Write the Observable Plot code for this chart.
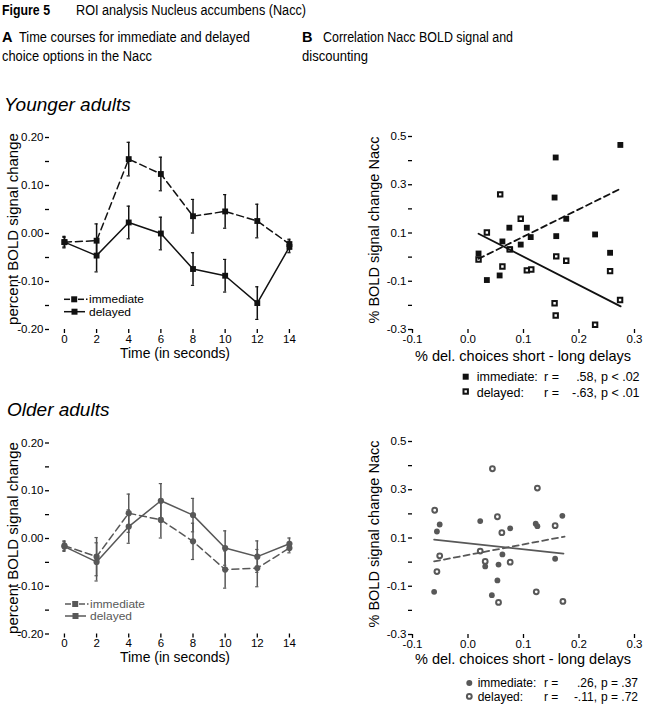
<!DOCTYPE html>
<html><head><meta charset="utf-8">
<script src="https://cdn.jsdelivr.net/npm/d3@7"></script>
<script src="https://cdn.jsdelivr.net/npm/@observablehq/plot@0.6"></script>
<style>
html,body{margin:0;padding:0;background:#fff;}
#page{position:relative;width:653px;height:706px;overflow:hidden;font-family:"Liberation Sans",Arial,sans-serif;}
.panel{position:absolute;}
#overlay{position:absolute;left:0;top:0;pointer-events:none;}
</style></head><body><div id="page"></div>
<script>
// ---- Time courses (seconds) ----
const time = [0, 2, 4, 6, 8, 10, 12, 14];
const youngImm    = [-0.018, -0.015, 0.155, 0.124, 0.036, 0.046, 0.026, -0.022];
const youngImmErr = [0.010, 0.035, 0.035, 0.035, 0.035, 0.035, 0.035, 0.010];
const youngDel    = [-0.018, -0.046, 0.023, 0.000, -0.074, -0.088, -0.145, -0.028];
const youngDelErr = [0.012, 0.034, 0.034, 0.034, 0.034, 0.034, 0.034, 0.012];
const oldImm      = [-0.015, -0.038, 0.053, 0.039, -0.006, -0.065, -0.062, -0.020];
const oldImmErr   = [0.010, 0.040, 0.040, 0.038, 0.038, 0.039, 0.039, 0.010];
const oldDel      = [-0.017, -0.049, 0.025, 0.079, 0.049, -0.020, -0.038, -0.011];
const oldDelErr   = [0.010, 0.040, 0.035, 0.036, 0.035, 0.036, 0.033, 0.012];

// ---- Scatter: younger adults ----
const youngImmX = [0.2745, 0.158, 0.156, 0.177, 0.0745, 0.106, 0.113, 0.159, 0.229, 0.062, 0.095, 0.076, 0.019, 0.256, 0.057, 0.034];
const youngImmY = [0.465, 0.413, 0.247, 0.159, 0.122, 0.122, 0.083, 0.087, 0.094, 0.065, 0.052, 0.032, 0.015, 0.018, -0.076, -0.095];
const youngDelX = [0.058, 0.095, 0.034, 0.075, 0.019, 0.159, 0.177, 0.062, 0.106, 0.114, 0.256, 0.274, 0.156, 0.158, 0.229];
const youngDelY = [0.260, 0.159, 0.102, 0.032, -0.010, 0.003, -0.015, -0.039, -0.055, -0.051, -0.058, -0.178, -0.191, -0.242, -0.280];
const youngFitImmX = [0.019, 0.277], youngFitImmY = [-0.007, 0.286];
const youngFitDelX = [0.019, 0.275], youngFitDelY = [0.097, -0.204];

// ---- Scatter: older adults ----
const oldImmX = [-0.051, -0.056, -0.061, 0.022, 0.076, 0.122, 0.125, 0.170, 0.062, 0.055, 0.031, 0.053, 0.043, 0.157];
const oldImmY = [0.156, 0.127, -0.123, 0.170, 0.140, 0.159, 0.149, 0.192, 0.032, -0.010, -0.018, -0.076, -0.137, 0.014];
const oldDelX = [0.044, 0.125, -0.060, 0.053, 0.061, 0.157, 0.022, -0.051, 0.031, 0.076, -0.056, 0.123, 0.055, 0.171];
const oldDelY = [0.387, 0.307, 0.215, 0.188, 0.122, 0.151, 0.046, 0.026, 0.003, 0.000, -0.039, -0.123, -0.167, -0.163];
const oldFitImmX = [-0.061, 0.174], oldFitImmY = [0.003, 0.106];
const oldFitDelX = [-0.061, 0.172], oldFitDelY = [0.093, 0.035];

// ---- Ticks ----
const yTicksTC  = [-0.2, -0.15, -0.1, -0.05, 0, 0.05, 0.1, 0.15, 0.2];
const yLabelsTC = [-0.2, -0.1, 0, 0.1, 0.2];
const xTicksSc  = [-0.1, 0, 0.1, 0.2, 0.3];
const yTicksSc  = [-0.3, -0.2, -0.1, 0, 0.1, 0.2, 0.3, 0.4, 0.5];
const yLabelsSc = [-0.3, -0.1, 0.1, 0.3, 0.5];

const FONT = '"Liberation Sans", Arial, sans-serif';
const BLACK = "#111";
const GRAY = "#585858";
const page = document.getElementById("page");

function place(el, left, top) {
  const d = document.createElement("div");
  d.className = "panel";
  d.style.left = left + "px";
  d.style.top = top + "px";
  d.appendChild(el);
  page.appendChild(d);
}

function timePlot(imm, immErr, del, delErr, color, symbol, r, mTop, mBottom) {
  const rows = time.map((t, i) => ({t, imm: imm[i], ie: immErr[i], del: del[i], de: delErr[i]}));
  return Plot.plot({
    width: 320, height: 250,
    marginLeft: 49, marginRight: 15, marginTop: mTop, marginBottom: mBottom,
    x: {domain: [-0.93, 15]},
    y: {domain: [-0.2, 0.2]},
    style: {fontFamily: FONT, fontSize: "11.5px", color: "#000", background: "transparent", overflow: "visible"},
    marks: [
      Plot.axisY({ticks: yTicksTC, tickFormat: d => yLabelsTC.includes(d) ? d.toFixed(2) : "", tickSize: 4, tickPadding: 2, line: true, label: null, strokeWidth: 1.3}),
      Plot.axisX({ticks: time, tickFormat: d => String(d), tickSize: 4, tickPadding: 1, line: true, label: null, strokeWidth: 1.3}),
      Plot.line(rows, {x: "t", y: "imm", stroke: color, strokeWidth: 1.5, strokeDasharray: "7,4"}),
      Plot.line(rows, {x: "t", y: "del", stroke: color, strokeWidth: 1.5}),
      Plot.ruleX(rows, {x: "t", y1: d => d.imm - d.ie, y2: d => d.imm + d.ie, stroke: color, strokeWidth: 1.5}),
      Plot.ruleX(rows, {x: "t", y1: d => d.del - d.de, y2: d => d.del + d.de, stroke: color, strokeWidth: 1.5}),
      Plot.ruleY(rows, {y: d => d.imm + d.ie, x1: d => d.t - 0.1, x2: d => d.t + 0.1, stroke: color, strokeWidth: 1.2}),
      Plot.ruleY(rows, {y: d => d.imm - d.ie, x1: d => d.t - 0.1, x2: d => d.t + 0.1, stroke: color, strokeWidth: 1.2}),
      Plot.ruleY(rows, {y: d => d.del + d.de, x1: d => d.t - 0.1, x2: d => d.t + 0.1, stroke: color, strokeWidth: 1.2}),
      Plot.ruleY(rows, {y: d => d.del - d.de, x1: d => d.t - 0.1, x2: d => d.t + 0.1, stroke: color, strokeWidth: 1.2}),
      Plot.dot(rows, {x: "t", y: "imm", symbol, r, fill: color, stroke: "none"}),
      Plot.dot(rows, {x: "t", y: "del", symbol, r, fill: color, stroke: "none"})
    ]
  });
}

function scatterPlot(ix, iy, dx, dy, fix, fiy, fdx, fdy, color, symbol, rFill, rOpen) {
  const imm = ix.map((x, i) => ({x, y: iy[i]}));
  const del = dx.map((x, i) => ({x, y: dy[i]}));
  const fi = fix.map((x, i) => ({x, y: fiy[i]}));
  const fd = fdx.map((x, i) => ({x, y: fdy[i]}));
  return Plot.plot({
    width: 323, height: 250,
    marginLeft: 82, marginRight: 19, marginTop: 16, marginBottom: 41,
    x: {domain: [-0.1, 0.3]},
    y: {domain: [-0.3, 0.5]},
    style: {fontFamily: FONT, fontSize: "11.5px", color: "#000", background: "transparent", overflow: "visible"},
    marks: [
      Plot.axisY({ticks: yTicksSc, tickFormat: d => yLabelsSc.includes(d) ? d.toFixed(1) : "", tickSize: 4, tickPadding: 2, line: true, label: null, strokeWidth: 1.3}),
      Plot.axisX({ticks: xTicksSc, tickFormat: d => d.toFixed(1), tickSize: 4, tickPadding: 1, line: true, label: null, strokeWidth: 1.3}),
      Plot.dot(imm, {x: "x", y: "y", symbol, r: rFill, fill: color, stroke: "none"}),
      Plot.dot(del, {x: "x", y: "y", symbol, r: rOpen, fill: "white", stroke: color, strokeWidth: 2}),
      Plot.line(fi, {x: "x", y: "y", stroke: color, strokeWidth: 1.8, strokeDasharray: "6,4"}),
      Plot.line(fd, {x: "x", y: "y", stroke: color, strokeWidth: 1.8})
    ]
  });
}

place(timePlot(youngImm, youngImmErr, youngDel, youngDelErr, BLACK, "square", 3.3, 17, 41), 0, 120);
place(timePlot(oldImm, oldImmErr, oldDel, oldDelErr, GRAY, "circle", 3.1, 17.5, 41.5), 0, 425);
place(scatterPlot(youngImmX, youngImmY, youngDelX, youngDelY, youngFitImmX, youngFitImmY, youngFitDelX, youngFitDelY, BLACK, "square", 3.3, 2.5), 330, 120);
place(scatterPlot(oldImmX, oldImmY, oldDelX, oldDelY, oldFitImmX, oldFitImmY, oldFitDelX, oldFitDelY, GRAY, "circle", 2.9, 2.4), 330, 425);

// ---- Overlay: titles, axis titles, legends ----
const ns = "http://www.w3.org/2000/svg";
const ov = document.createElementNS(ns, "svg");
ov.setAttribute("id", "overlay");
ov.setAttribute("width", 653);
ov.setAttribute("height", 706);
const LA = 'lengthAdjust="spacingAndGlyphs"';
ov.innerHTML = `
<g font-family='${FONT}' fill="#000">
  <text x="2" y="15" font-size="14.5" font-weight="bold" textLength="48" ${LA}>Figure 5</text>
  <text x="76" y="15" font-size="14" textLength="230" ${LA}>ROI analysis Nucleus accumbens (Nacc)</text>
  <text x="2" y="42" font-size="14.5" font-weight="bold">A</text>
  <text x="19" y="42" font-size="14" textLength="231" ${LA}>Time courses for immediate and delayed</text>
  <text x="2" y="61" font-size="14" textLength="150" ${LA}>choice options in the Nacc</text>
  <text x="302" y="42" font-size="14.5" font-weight="bold">B</text>
  <text x="323" y="42" font-size="14" textLength="190" ${LA}>Correlation Nacc BOLD signal and</text>
  <text x="302" y="61" font-size="14" textLength="66" ${LA}>discounting</text>
  <text x="4" y="111" font-size="19" font-style="italic">Younger adults</text>
  <text x="7" y="416" font-size="19" font-style="italic">Older adults</text>

  <text transform="translate(18,229) rotate(-90)" text-anchor="middle" font-size="15">percent BOLD signal change</text>
  <text transform="translate(18,538) rotate(-90)" text-anchor="middle" font-size="15">percent BOLD signal change</text>
  <text x="175" y="358" text-anchor="middle" font-size="14.5" textLength="110" ${LA}>Time (in seconds)</text>
  <text x="175" y="662" text-anchor="middle" font-size="14.5" textLength="110" ${LA}>Time (in seconds)</text>

  <text transform="translate(379,230) rotate(-90)" text-anchor="middle" font-size="14.5">% BOLD signal change Nacc</text>
  <text transform="translate(379,534) rotate(-90)" text-anchor="middle" font-size="14.5">% BOLD signal change Nacc</text>
  <text x="523" y="361" text-anchor="middle" font-size="14.5">% del. choices short - long delays</text>
  <text x="523" y="664" text-anchor="middle" font-size="14.5">% del. choices short - long delays</text>

  <!-- time-course legends -->
  <g stroke="${BLACK}" stroke-width="1.5">
    <line x1="64" x2="70" y1="299.3" y2="299.3"/><line x1="78" x2="84" y1="299.3" y2="299.3"/><line x1="86" x2="87.5" y1="299.3" y2="299.3"/>
    <line x1="64" x2="85" y1="311.7" y2="311.7"/>
  </g>
  <rect x="71.2" y="296.3" width="6" height="6" fill="${BLACK}"/>
  <rect x="71.5" y="308.7" width="6" height="6" fill="${BLACK}"/>
  <text x="89" y="303.3" font-size="11" textLength="55" ${LA}>immediate</text>
  <text x="89" y="315.7" font-size="11" textLength="42" ${LA}>delayed</text>

  <g stroke="${GRAY}" stroke-width="1.5">
    <line x1="65" x2="71" y1="604" y2="604"/><line x1="79" x2="85" y1="604" y2="604"/><line x1="87" x2="88.5" y1="604" y2="604"/>
    <line x1="65" x2="86" y1="616" y2="616"/>
  </g>
  <rect x="72.2" y="601" width="6" height="6" fill="${GRAY}"/>
  <rect x="72.5" y="613" width="6" height="6" fill="${GRAY}"/>
  <text x="90" y="608" font-size="11" fill="${GRAY}" textLength="55" ${LA}>immediate</text>
  <text x="90" y="620" font-size="11" fill="${GRAY}" textLength="42" ${LA}>delayed</text>

  <!-- scatter legends -->
  <rect x="462.7" y="373.7" width="6" height="6" fill="${BLACK}"/>
  <rect x="463.5" y="389.3" width="4.4" height="4.4" fill="white" stroke="${BLACK}" stroke-width="2"/>
  <g font-size="12.5">
    <text x="476.7" y="381.3">immediate:</text><text x="544" y="381.3">r =</text><text x="597" y="381.3" text-anchor="end">.58,</text><text x="601" y="381.3">p &lt; .02</text>
    <text x="476.7" y="396.5">delayed:</text><text x="544" y="396.5">r =</text><text x="597" y="396.5" text-anchor="end">-.63,</text><text x="601" y="396.5">p &lt; .01</text>
  </g>
  <circle cx="469.3" cy="683" r="3" fill="${GRAY}"/>
  <circle cx="469.3" cy="696.4" r="2.4" fill="white" stroke="${GRAY}" stroke-width="2"/>
  <g font-size="12">
    <text x="477.7" y="687.3">immediate:</text><text x="544" y="687.3">r =</text><text x="597" y="687.3" text-anchor="end">.26,</text><text x="601" y="687.3">p = .37</text>
    <text x="477.7" y="700.7">delayed:</text><text x="544" y="700.7">r =</text><text x="597" y="700.7" text-anchor="end">-.11,</text><text x="601" y="700.7">p = .72</text>
  </g>
</g>`;
page.appendChild(ov);
</script></body></html>
